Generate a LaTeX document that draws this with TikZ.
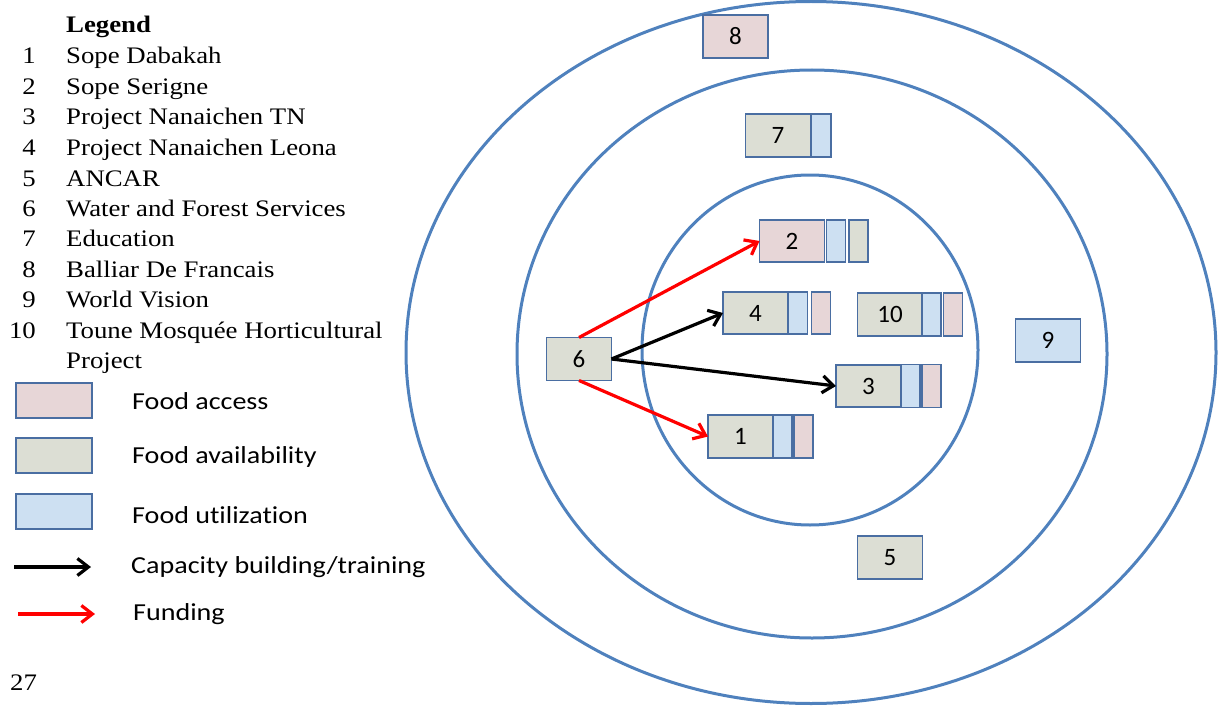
\documentclass[tikz,border=0pt]{standalone}
\usepackage{fontspec}
\setmainfont{Liberation Serif}[FakeStretch=1.13]
\newfontfamily\calibri{Carlito}[Ligatures=NoCommon]
\newfontfamily\calibriwide{Carlito}[FakeStretch=1.15, Ligatures=NoCommon]
\usetikzlibrary{arrows.meta}
\definecolor{ringblue}{RGB}{79,129,189}
\definecolor{edgeblue}{RGB}{74,110,162}
\definecolor{accessfill}{RGB}{231,214,215}
\definecolor{availfill}{RGB}{220,222,212}
\definecolor{utilfill}{RGB}{205,224,242}
\definecolor{fundred}{RGB}{255,0,0}

\begin{document}
\begin{tikzpicture}[x=1pt,y=-1pt,
  seg/.style={draw=edgeblue, line width=1.8pt, inner sep=0pt, outer sep=0pt,
    minimum height=43pt, font=\calibri\fontsize{25}{25}\selectfont},
  access/.style={seg, fill=accessfill},
  avail/.style={seg, fill=availfill},
  util/.style={seg, fill=utilfill},
  mainseg/.style={minimum width=65pt},
  sideseg/.style={minimum width=19pt},
  ring/.style={draw=ringblue, line width=3pt},
  trainarrow/.style={draw=black, line width=3.2pt, -{Straight Barb[length=11pt,width=17pt]}},
  fundarrow/.style={draw=fundred, line width=3.2pt, -{Straight Barb[length=11pt,width=17pt]}},
  legtext/.style={anchor=base west, inner sep=0pt, font=\fontsize{23.7}{28}\selectfont},
  legnum/.style={anchor=base east, inner sep=0pt, font=\fontsize{23.7}{28}\selectfont},
  keytext/.style={anchor=west, inner sep=0pt, font=\calibriwide\fontsize{24.4}{24}\selectfont},
  keybox/.style={minimum width=76pt, minimum height=35pt}
]
\useasboundingbox (0,0) rectangle (1218,706);

% rings of influence
\draw[ring] (811,352.5) ellipse [x radius=405pt, y radius=351pt];
\draw[ring] (812,354) ellipse [x radius=295pt, y radius=284pt];
\draw[ring] (810,350) ellipse [x radius=168pt, y radius=175pt];

% outer ring actors
\node[access, mainseg] (b8) at (735.5,36.5) {8};
\node[util, mainseg] (b9) at (1048,340.5) {9};

% middle ring actors
\node[avail, mainseg] (b7) at (778,135.5) {7};
\node[util, sideseg, minimum width=20pt] (b7u) at (821,135.5) {};
\node[avail, mainseg] (b5) at (890,557.5) {5};
\node[avail, mainseg] (b6) at (579,359) {6};

% inner ring actors
\node[access, mainseg, minimum height=42pt] (b2) at (792,241) {2};
\node[util, sideseg, minimum height=42pt] (b2u) at (836,241) {};
\node[avail, sideseg, minimum height=42pt] (b2v) at (858.5,241) {};

\node[avail, mainseg, minimum height=42pt] (b4) at (755.5,313) {4};
\node[util, sideseg, minimum height=42pt] (b4u) at (798,313) {};
\node[access, sideseg, minimum height=42pt] (b4a) at (821,313) {};

\node[avail, mainseg] (b10) at (890,314.5) {10};
\node[util, sideseg] (b10u) at (931.5,314.5) {};
\node[access, sideseg] (b10a) at (953,314.5) {};

\node[avail, mainseg, minimum height=42pt] (b3) at (868.5,386) {3};
\node[util, sideseg] (b3u) at (910.5,386) {};
\node[access, sideseg] (b3a) at (931.5,386) {};

\node[avail, mainseg] (b1) at (740.5,436.5) {1};
\node[util, sideseg] (b1u) at (782.5,436.5) {};
\node[access, sideseg] (b1a) at (803.5,436.5) {};

% links from the Water and Forest Services
\draw[fundarrow] (b6.north) -- (b2.west);
\draw[fundarrow] (b6.south) -- (b1.west);
\draw[trainarrow] (b6.east) -- (b4.west);
\draw[trainarrow] (b6.east) -- (b3.west);

% legend of actors
\node[legtext, font=\bfseries\fontsize{23.7}{28}\selectfont] (legtitle) at (66,33) {Legend};
\node[legnum] (n1) at (36,64) {1};   \node[legtext] (t1) at (66,64) {Sope Dabakah};
\node[legnum] (n2) at (36,94.5) {2}; \node[legtext] (t2) at (66,94.5) {Sope Serigne};
\node[legnum] (n3) at (36,125) {3};  \node[legtext] (t3) at (66,125) {Project Nanaichen TN};
\node[legnum] (n4) at (36,155.5) {4};\node[legtext] (t4) at (66,155.5) {Project Nanaichen Leona};
\node[legnum] (n5) at (36,186) {5};  \node[legtext] (t5) at (66,186) {ANCAR};
\node[legnum] (n6) at (36,216) {6};  \node[legtext] (t6) at (66,216) {Water and Forest Services};
\node[legnum] (n7) at (36,246.5) {7};\node[legtext] (t7) at (66,246.5) {Education};
\node[legnum] (n8) at (36,277) {8};  \node[legtext] (t8) at (66,277) {Balliar De Francais};
\node[legnum] (n9) at (36,307.5) {9};\node[legtext] (t9) at (66,307.5) {World Vision};
\node[legnum] (n10) at (36,338) {10};\node[legtext] (t10) at (66,338) {Toune Mosquée Horticultural};
\node[legtext] (t10b) at (66,368.5) {Project};

% legend of pillars and links
\node[access, keybox] (kaccess) at (54,400.5) {};
\node[keytext] (kaccesst) at (132,401) {Food access};
\node[avail, keybox] (kavail) at (54,455.5) {};
\node[keytext] (kavailt) at (132,457) {Food availability};
\node[util, keybox] (kutil) at (54,511.5) {};
\node[keytext] (kutilt) at (132,515) {Food utilization};

\coordinate (ktrain1) at (14,567);
\coordinate (ktrain2) at (91,567);
\draw[trainarrow] (ktrain1) -- (ktrain2);
\node[keytext] (ktraint) at (131,567) {Capacity building/training};

\coordinate (kfund1) at (18,614);
\coordinate (kfund2) at (95,614);
\draw[fundarrow] (kfund1) -- (kfund2);
\node[keytext] (kfundt) at (133,614) {Funding};

% page number
\node[legtext] (pagenum) at (10,690) {27};
\end{tikzpicture}
\end{document}
